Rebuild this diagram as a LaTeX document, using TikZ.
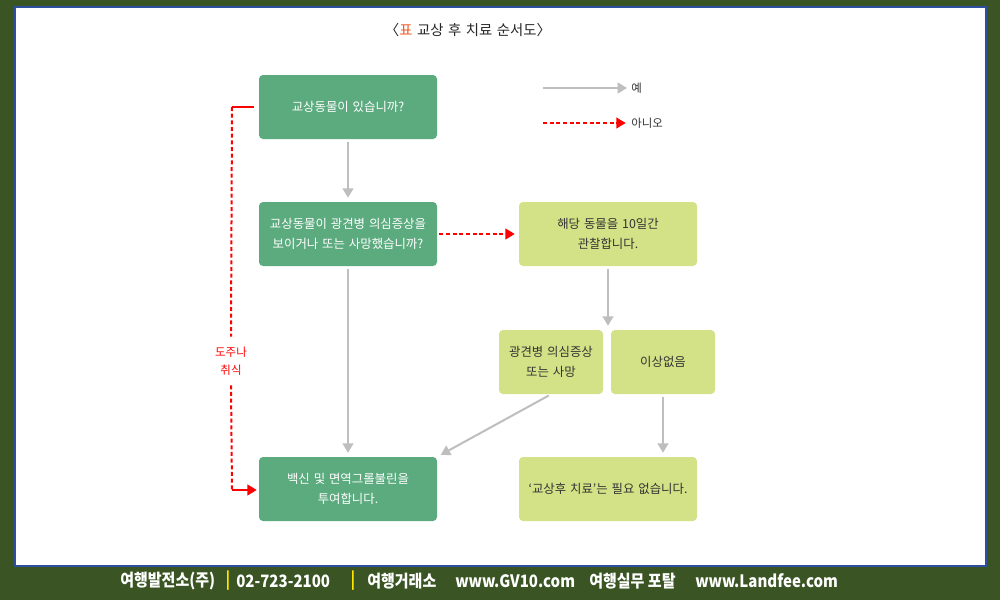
\documentclass[tikz,border=0pt]{standalone}
\usepackage{fontspec}
\setmainfont{Noto Sans CJK KR}[WordSpace=1.4]
\newfontfamily\footfont[FakeStretch=0.88]{Noto Sans CJK KR}
\usetikzlibrary{arrows.meta}
\definecolor{framegreen}{HTML}{3A5523}
\definecolor{frameblue}{HTML}{2E4FA0}
\definecolor{boxgreen}{HTML}{5BAB7F}
\definecolor{boxlime}{HTML}{D3E286}
\definecolor{arrowgray}{HTML}{BEBEBE}
\definecolor{titlered}{HTML}{F05A28}
\definecolor{textgray}{HTML}{333333}
\definecolor{footyellow}{HTML}{FFE400}
\tikzset{
  boxtext/.style={font=\fontsize{9.3}{15}\selectfont, align=center, rounded corners=3pt, inner sep=0pt},
  greenbox/.style={boxtext, fill=boxgreen, text=white, minimum width=133.5pt, minimum height=48pt},
  limebox/.style={boxtext, fill=boxlime, text=textgray, minimum width=133.5pt, minimum height=48pt},
  smallbox/.style={limebox, minimum width=78pt},
  yesarrow/.style={draw=arrowgray, line width=1.5pt, -{Triangle[length=7pt,width=8pt]}, shorten <=2pt, shorten >=3pt},
  noarrow/.style={draw=red, line width=1.5pt, dash pattern=on 3pt off 2pt, -{Triangle[length=7pt,width=8pt]}},
  legendtext/.style={font=\fontsize{8.6}{10}\selectfont, text=textgray, anchor=west, inner sep=0pt},
  foottext/.style={font=\footfont\bfseries\fontsize{12.8}{15}\selectfont, inner sep=0pt}
}
\begin{document}
\begin{tikzpicture}[x=0.75pt, y=-0.75pt]
\fill[framegreen] (0,0) rectangle (1000,600);
\draw[frameblue, line width=1.5pt, fill=white] (15,7) rectangle (986,566);

\node[font=\fontsize{10.8}{12}\selectfont, text=black!85] (title) at (468,30) {〈{\color{titlered}표} 교상 후 치료 순서도〉};

% boxes
\node[greenbox] (have) at (348,107) {교상동물이 있습니까?};
\node[greenbox] (symptom) at (348,234) {교상동물이 광견병 의심증상을\\보이거나 또는 사망했습니까?};
\node[limebox] (watch) at (608,234) {해당 동물을 10일간\\관찰합니다.};
\node[smallbox] (rabid) at (551,362) {광견병 의심증상\\또는 사망};
\node[smallbox] (fine) at (663,362) {이상없음};
\node[greenbox] (vaccine) at (348,489) {백신 및 면역그롤불린을\\투여합니다.};
\node[limebox] (notreat) at (608,489) {‘교상후 치료’는 필요 없습니다.};

% legend
\coordinate (yesstart) at (543,88);
\coordinate (nostart) at (543,123);
\node[legendtext] (yeslabel) at (631,88) {예};
\node[legendtext] (nolabel) at (631,123) {아니오};
\draw[yesarrow, shorten <=0pt] (yesstart) -- (yeslabel.west);
\draw[noarrow, shorten >=4pt] (nostart) -- (nolabel.west);

% flow
\draw[yesarrow] (have) -- (symptom);
\draw[yesarrow] (symptom) -- (vaccine);
\draw[yesarrow] (watch) -- (watch.south |- rabid.north);
\draw[yesarrow] (rabid.south) -- (vaccine.north east);
\draw[yesarrow] (fine) -- (notreat.north -| fine.south);
\draw[noarrow, shorten <=1.5pt, shorten >=3pt] (symptom) -- (watch);

% escape loop
\coordinate (looptop) at (232,107);
\coordinate (loopbot) at (232,490);
\node[font=\fontsize{8.6}{13.5}\selectfont, text=red, align=center, inner sep=0pt, minimum height=36pt] (escape) at (231,361) {도주나\\취식};
\draw[red, line width=1.5pt] ([xshift=-3.75pt]have.west) -- (looptop);
\draw[red, line width=1.5pt, dash pattern=on 3pt off 2pt] (looptop) -- (escape.north);
\draw[red, line width=1.5pt, dash pattern=on 3pt off 2pt] (escape.south) -- (loopbot);
\draw[red, line width=1.5pt, -{Triangle[length=7pt,width=8pt]}, shorten >=1.5pt] (loopbot) -- (vaccine.west |- loopbot);

% footer
\foreach \x/\txt in {120/{여행발전소(주)}, 236/{02-723-2100}, 367/{여행거래소}, 455/{www.GV10.com}, 589/{여행실무 포탈}, 695/{www.Landfee.com}}
  \node[foottext, text=white, anchor=west] (foot\x) at (\x,581) {\txt};
\foreach \x in {228,353}
  \node[foottext, text=footyellow] (bar\x) at (\x,581) {|};
\end{tikzpicture}
\end{document}
